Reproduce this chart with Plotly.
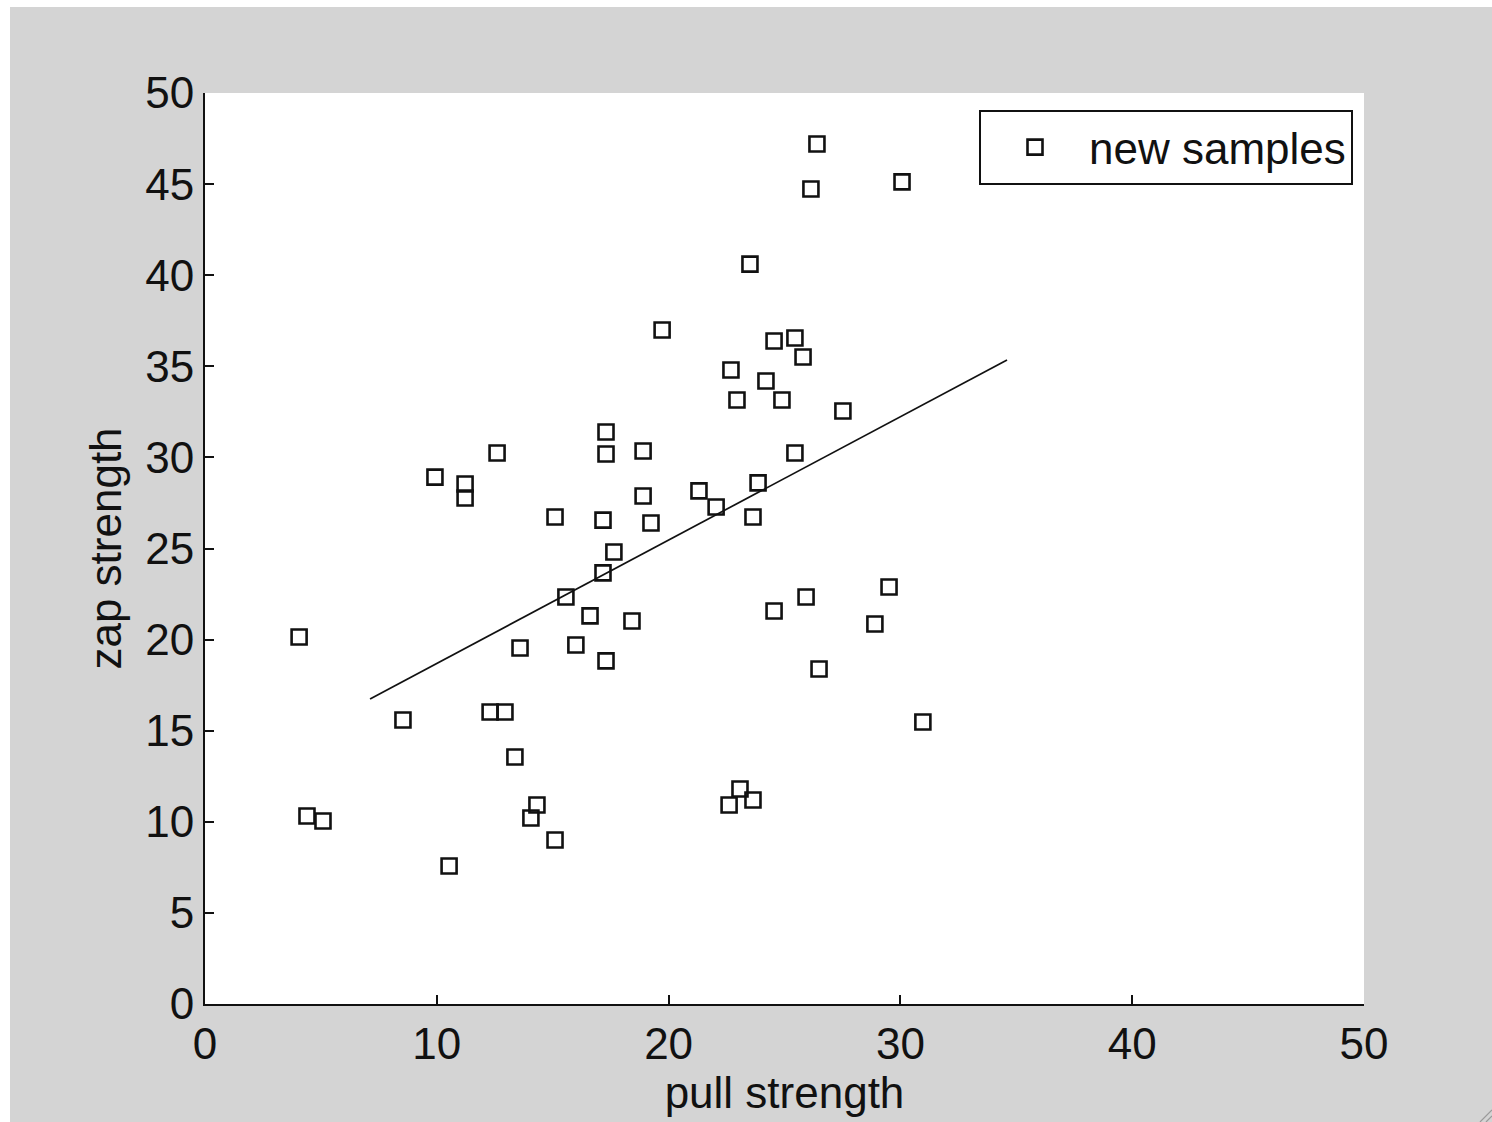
import plotly.graph_objects as go

# Sample measurements
pull_strength = [4.06, 4.40, 5.09, 8.54, 9.92, 10.53, 11.22, 11.22, 12.60, 12.30,
                 12.94, 13.37, 13.59, 14.32, 14.06, 15.10, 15.10, 15.57, 16.00, 16.61,
                 17.17, 17.17, 17.30, 17.30, 17.30, 17.64, 18.42, 18.90, 18.90, 19.24,
                 19.72, 21.31, 22.05, 22.69, 22.95, 22.61, 23.08, 23.64, 23.51, 23.64,
                 23.86, 24.20, 24.55, 24.55, 24.89, 25.45, 25.45, 25.80, 25.93, 26.14,
                 26.40, 26.49, 27.52, 28.90, 29.51, 30.07, 30.97]
zap_strength = [20.14, 10.32, 10.04, 15.59, 28.92, 7.57, 28.54, 27.77, 30.24, 16.03,
                16.03, 13.56, 19.54, 10.92, 10.21, 26.73, 9.00, 22.34, 19.70, 21.30,
                26.56, 23.66, 31.39, 30.19, 18.83, 24.81, 21.02, 30.35, 27.88, 26.40,
                36.99, 28.16, 27.28, 34.80, 33.15, 10.92, 11.80, 11.20, 40.61, 26.73,
                28.60, 34.19, 36.39, 21.57, 33.15, 36.55, 30.24, 35.51, 22.34, 44.73,
                47.20, 18.39, 32.55, 20.86, 22.89, 45.12, 15.48]

# Fitted trend line end points
fit_pull = [7.12, 34.6]
fit_zap = [16.74, 35.35]

x_ticks = [0, 10, 20, 30, 40, 50]
y_ticks = [0, 5, 10, 15, 20, 25, 30, 35, 40, 45, 50]

FONT = "Liberation Sans, Arial, Helvetica, sans-serif"
INK = "#111111"
FS = 44

fig = go.Figure()
fig.add_trace(go.Scatter(
    x=pull_strength, y=zap_strength, mode="markers", name="new samples",
    marker=dict(symbol="square-open", size=15, color=INK, line=dict(width=2.6, color=INK)),
))
fig.add_trace(go.Scatter(
    x=fit_pull, y=fit_zap, mode="lines", showlegend=False,
    line=dict(color=INK, width=1.7),
))

axis_common = dict(
    showgrid=False, zeroline=False, showline=True, linecolor=INK, linewidth=2,
    ticks="inside", ticklen=9, tickwidth=1.5, tickcolor=INK, mirror=False,
    tickfont=dict(family=FONT, size=FS, color=INK),
)

# Window frame: white edge strips along the top and left, resize grip at bottom right
px_w, px_h = 1492, 1122
ml, mr, mt, mb = 205, 128, 93, 118
pw, ph = px_w - ml - mr, px_h - mt - mb


def px_x(x):
    return (x - ml) / pw


def px_y(y):
    return (px_h - mb - y) / ph


frame_shapes = [
    dict(type="rect", xref="paper", yref="paper", x0=px_x(0), x1=px_x(px_w), y0=px_y(7), y1=px_y(0),
         line=dict(width=0), fillcolor="#ffffff", layer="below"),
    dict(type="rect", xref="paper", yref="paper", x0=px_x(0), x1=px_x(10), y0=px_y(px_h), y1=px_y(0),
         line=dict(width=0), fillcolor="#ffffff", layer="below"),
]
for d in (6, 12):
    frame_shapes.append(dict(type="line", xref="paper", yref="paper",
                             x0=px_x(px_w - d), y0=px_y(px_h), x1=px_x(px_w), y1=px_y(px_h - d),
                             line=dict(color="#9a9a9a", width=1.2)))

fig.update_layout(
    width=px_w, height=px_h,
    paper_bgcolor="#d4d4d4", plot_bgcolor="#ffffff",
    margin=dict(l=ml, r=mr, t=mt, b=mb, autoexpand=False),
    font=dict(family=FONT, size=FS, color=INK),
    xaxis=dict(range=[0, 50], tickvals=x_ticks, ticktext=[str(v) for v in x_ticks],
               title=dict(text="pull strength", font=dict(family=FONT, size=FS, color=INK), standoff=6),
               **axis_common),
    yaxis=dict(range=[0, 50], tickvals=y_ticks, ticktext=[str(v) for v in y_ticks],
               title=dict(text="zap strength", font=dict(family=FONT, size=FS, color=INK), standoff=10),
               **axis_common),
    legend=dict(x=px_x(1353), y=px_y(110), xanchor="right", yanchor="top",
                bgcolor="#ffffff", bordercolor=INK, borderwidth=2,
                font=dict(family=FONT, size=FS, color=INK), itemwidth=98),
    showlegend=True,
    shapes=frame_shapes,
)

fig.write_html("out.html")
